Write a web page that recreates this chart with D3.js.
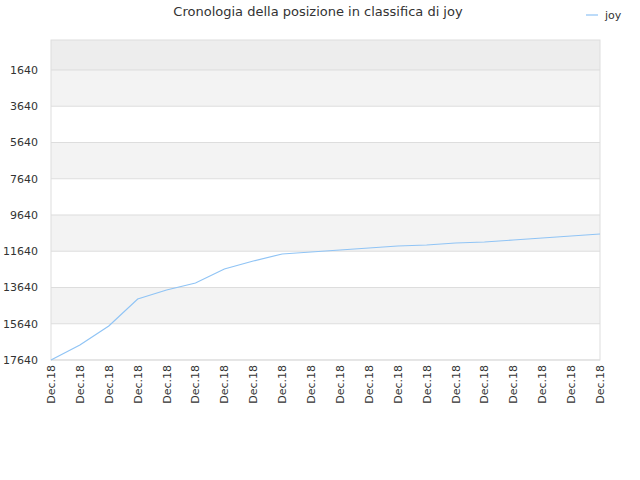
<!DOCTYPE html><html><head><meta charset="utf-8">
<script src="https://cdn.jsdelivr.net/npm/d3@7"></script>
<style>body{margin:0;background:#fff}text{font-family:"DejaVu Sans",sans-serif}</style></head><body>
<svg id="c" width="640" height="480"></svg>
<script>
const title = "Cronologia della posizione in classifica di joy";
const seriesName = "joy";
const xLabels = Array.from({length:20}, () => "Dec.18");
const yTicks = [1640,3640,5640,7640,9640,11640,13640,15640,17640];
const values = [17640,16812,15764,14275,13778,13392,12620,12178,11792,11682,11571,11461,11351,11295,11185,11130,11020,10909,10799,10689];

const svg = d3.select("#c");
const L=51,R=600,T=40,B=360;
const x = d3.scaleLinear().domain([0,xLabels.length-1]).range([L,R]);
const y = d3.scaleLinear().domain([-15,17640]).range([T,B]);
// bands
const edges=[-15,...yTicks];
for(let i=0;i<edges.length-1;i++){
  const fill = i===0?"#ededed":(i%2===1?"#f3f3f3":"#ffffff");
  svg.append("rect").attr("x",L).attr("width",R-L).attr("y",y(edges[i])).attr("height",y(edges[i+1])-y(edges[i])).attr("fill",fill);
}
yTicks.forEach(t=>svg.append("line").attr("x1",L).attr("x2",R).attr("y1",y(t)).attr("y2",y(t)).attr("stroke","#dddddd"));
svg.append("rect").attr("x",L).attr("y",T).attr("width",R-L).attr("height",B-T).attr("fill","none").attr("stroke","#dddddd");
yTicks.forEach(t=>svg.append("text").attr("x",L-13).attr("y",y(t)+4).attr("text-anchor","end").attr("font-size",11).attr("fill","#333").text(t));
xLabels.forEach((l,i)=>svg.append("text").attr("transform",`translate(${x(i)+4},${B+5}) rotate(-90)`).attr("text-anchor","end").attr("font-size",11).attr("fill","#333").text(l));
svg.append("path").datum(values).attr("fill","none").attr("stroke","#90c4f5").attr("stroke-width",1.2)
  .attr("d",d3.line().x((d,i)=>x(i)).y(d=>y(d)));
svg.append("text").attr("x",318).attr("y",16).attr("text-anchor","middle").attr("font-size",13).attr("fill","#333").text(title);
svg.append("line").attr("x1",586).attr("x2",598).attr("y1",15).attr("y2",15).attr("stroke","#90c4f5").attr("stroke-width",1.2);
svg.append("text").attr("x",605).attr("y",19).attr("font-size",11).attr("fill","#333").text(seriesName);
</script></body></html>
